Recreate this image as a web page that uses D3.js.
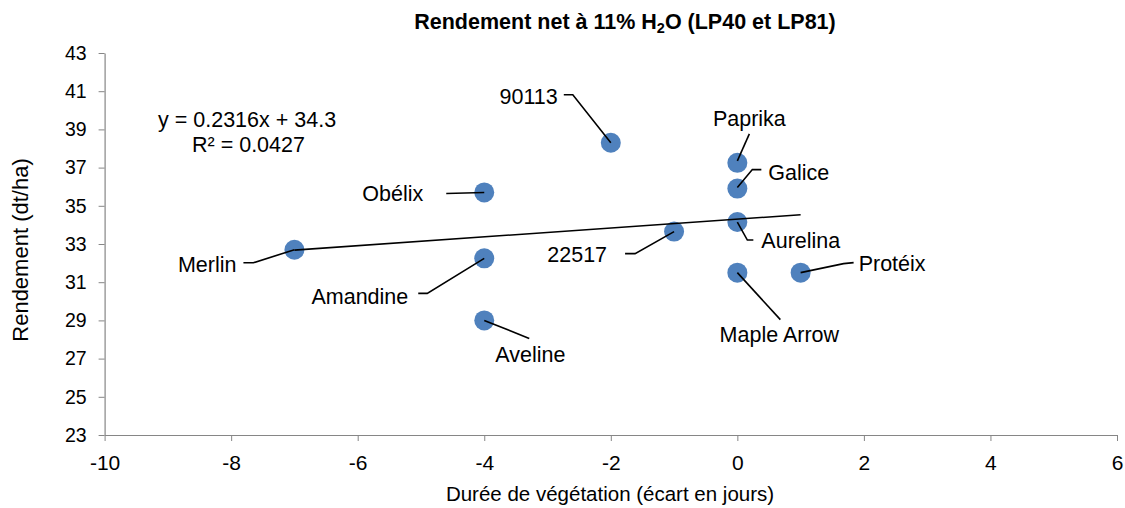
<!DOCTYPE html>
<html><head><meta charset="utf-8">
<script src="https://cdn.jsdelivr.net/npm/d3@7"></script>
<style>
body{margin:0;background:#fff;}
svg{display:block;font-family:"Liberation Sans",Arial,sans-serif;}
</style></head>
<body><svg id="c" width="1125" height="508"></svg>
<script>
// ---- data ----
const varieties = ["Merlin","Obélix","Amandine","Aveline","90113","22517","Paprika","Galice","Aurelina","Maple Arrow","Protéix"];
const duree =     [-7, -4, -4, -4, -2, -1, 0, 0, 0, 0, 1];
const rendement = [32.7, 35.7, 32.25, 29.0, 38.3, 33.65, 37.25, 35.9, 34.15, 31.5, 31.5];
const xTicks = [-10,-8,-6,-4,-2,0,2,4,6];
const yTicks = [23,25,27,29,31,33,35,37,39,41,43];
const trendSlope = 0.2316, trendIntercept = 34.3, r2 = 0.0427;

// ---- label layout (pixel offsets from the point) ----
const labelLayout = [
  {anchor:"end",   dx:-58, dy:15,  lead:[[-51,13],[-41,13],[0,0]]},
  {anchor:"end",   dx:-61, dy:1,   lead:[[-38,1],[0,0]]},
  {anchor:"end",   dx:-76, dy:38,  lead:[[-66,35],[-57,35],[0,0]]},
  {anchor:"start", dx:11,  dy:34,  lead:[[0,0],[45,18]]},
  {anchor:"end",   dx:-53, dy:-46, lead:[[-47,-48],[-38,-48],[0,0]]},
  {anchor:"end",   dx:-67, dy:23,  lead:[[-49,22],[-39,22],[0,0]]},
  {anchor:"middle",dx:12,  dy:-44, lead:[[12,-29],[0,-2]]},
  {anchor:"start", dx:31,  dy:-16, lead:[[24,-19],[15,-19],[0,-1]]},
  {anchor:"start", dx:24,  dy:18,  lead:[[0,0],[10,18],[16,18]]},
  {anchor:"middle",dx:42,  dy:62,  lead:[[0,0],[43,47]]},
  {anchor:"start", dx:58,  dy:-9,  lead:[[0,0],[43,-9],[53,-10]]}
];

const svg = d3.select("#c");
const mLeft=104.6, mRight=1117, mTop=53, mBottom=435;
const x = d3.scaleLinear().domain([-10,6]).range([mLeft,mRight]);
const y = d3.scaleLinear().domain([23,43]).range([mBottom,mTop]);
const axisColor="#868686";
const FS = 21.5;

// title
const t = svg.append("text").attr("x",625).attr("y",29).attr("text-anchor","middle")
  .attr("font-weight","bold").attr("font-size",21.5).attr("fill","#000");
t.append("tspan").text("Rendement net à 11% H");
t.append("tspan").attr("font-size",14.5).attr("dy",4).text("2");
t.append("tspan").attr("dy",-4).text("O (LP40 et LP81)");

// axes
const gx = svg.append("g").attr("transform",`translate(0,${mBottom})`)
  .call(d3.axisBottom(x).tickValues(xTicks).tickSize(6).tickSizeOuter(0).tickFormat(d=>d));
const gy = svg.append("g").attr("transform",`translate(${mLeft},0)`)
  .call(d3.axisLeft(y).tickValues(yTicks).tickSize(6).tickSizeOuter(0).tickFormat(d=>d));
[gx,gy].forEach(g=>{
  g.select(".domain").attr("stroke",axisColor).attr("stroke-width",1.2);
  g.selectAll(".tick line").attr("stroke",axisColor);
  g.selectAll(".tick text").attr("fill","#000")
    .attr("font-family","Liberation Sans, Arial, sans-serif");
});
gx.selectAll(".tick text").attr("font-size",21).attr("y",20).attr("dy","0.71em");
gy.selectAll(".tick text").attr("font-size",19.5).attr("x",-18);

svg.append("text").attr("x",610).attr("y",501).attr("text-anchor","middle")
  .attr("font-size",20.5).text("Durée de végétation (écart en jours)");
svg.append("text").attr("transform","translate(28,250) rotate(-90)").attr("text-anchor","middle")
  .attr("font-size",22).text("Rendement (dt/ha)");

// points
const pts = varieties.map((n,i)=>({name:n, dx:duree[i], r:rendement[i], lay:labelLayout[i]}));
svg.append("g").selectAll("circle").data(pts).join("circle")
  .attr("cx",d=>x(d.dx)).attr("cy",d=>y(d.r)).attr("r",10).attr("fill","#4F81BD");

// trend line
const xMin=d3.min(duree), xMax=d3.max(duree);
svg.append("line").attr("x1",x(xMin)).attr("y1",y(trendSlope*xMin+trendIntercept))
  .attr("x2",x(xMax)).attr("y2",y(trendSlope*xMax+trendIntercept))
  .attr("stroke","#000").attr("stroke-width",1.6);

// leader lines
const line = d3.line();
svg.append("g").selectAll("path").data(pts).join("path")
  .attr("d",d=>line(d.lay.lead.map(p=>[x(d.dx)+p[0], y(d.r)+p[1]])))
  .attr("fill","none").attr("stroke","#000").attr("stroke-width",1.6);

// labels
svg.append("g").selectAll("text").data(pts).join("text")
  .attr("x",d=>x(d.dx)+d.lay.dx).attr("y",d=>y(d.r)+d.lay.dy).attr("dy","0.35em")
  .attr("text-anchor",d=>d.lay.anchor).attr("font-size",FS).attr("fill","#000").text(d=>d.name);

// equation
svg.append("text").attr("x",158).attr("y",127).attr("font-size",FS).text(`y = ${trendSlope}x + ${trendIntercept}`);
svg.append("text").attr("x",192).attr("y",152).attr("font-size",FS).text(`R² = ${r2}`);
</script></body></html>
